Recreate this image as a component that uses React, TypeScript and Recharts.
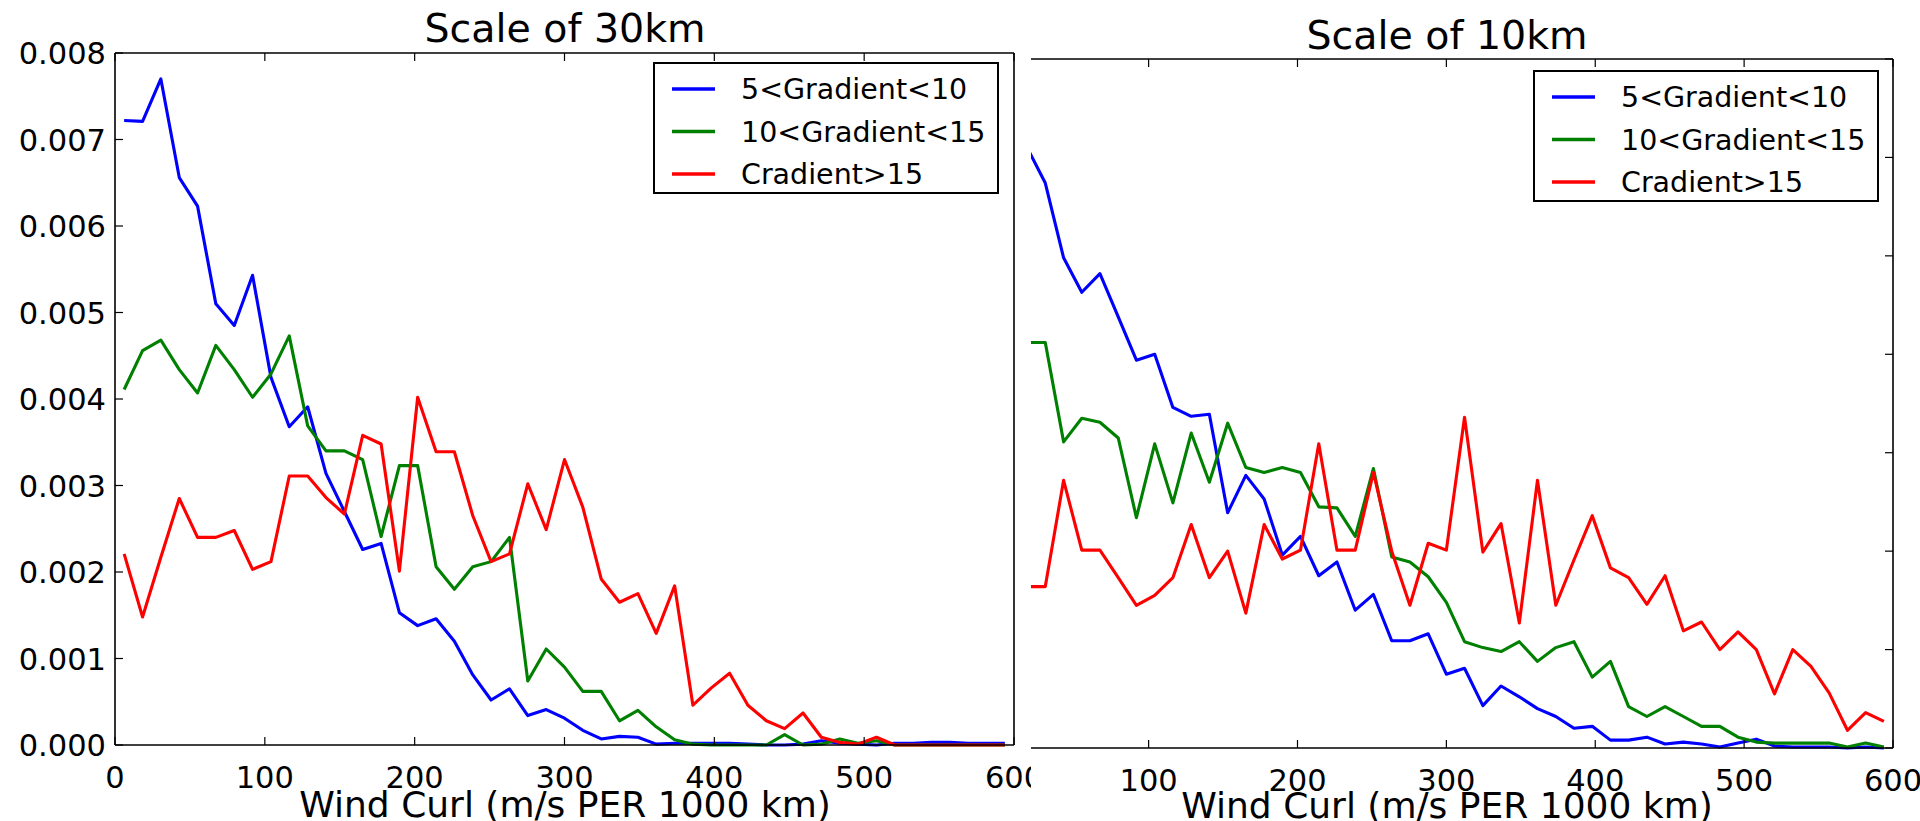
import React from 'react';
import { LineChart, Line, XAxis, YAxis, Legend } from 'recharts';

const FONT = '"DejaVu Sans", "Liberation Sans", sans-serif';

// histogram bin centres (m/s PER 1000 km)
const BIN_CENTERS = [6.1, 18.4, 30.6, 42.9, 55.1, 67.3, 79.6, 91.8, 104.1, 116.3, 128.6, 140.8, 153.1, 165.3, 177.6, 189.8, 202.0, 214.3, 226.5, 238.8, 251.0, 263.3, 275.5, 287.8, 300.0, 312.2, 324.5, 336.7, 349.0, 361.2, 373.5, 385.7, 398.0, 410.2, 422.4, 434.7, 446.9, 459.2, 471.4, 483.7, 495.9, 508.2, 520.4, 532.7, 544.9, 557.1, 569.4, 581.6, 593.9];

const SERIES_NAMES = ['5<Gradient<10', '10<Gradient<15', 'Cradient>15'];
const SERIES_KEYS = ['low', 'mid', 'high'];
const SERIES_COLORS = ['#0000ff', '#008000', '#ff0000'];

const TITLE_30 = 'Scale of 30km';
const TITLE_10 = 'Scale of 10km';
const X_LABEL = 'Wind Curl (m/s PER 1000 km)';

const X_TICKS_30 = [0, 100, 200, 300, 400, 500, 600];
const X_TICKS_10 = [100, 200, 300, 400, 500, 600];
const Y_TICKS_30 = [0, 0.001, 0.002, 0.003, 0.004, 0.005, 0.006, 0.007, 0.008];
const Y_TICKS_10 = [0, 0.001, 0.002, 0.003, 0.004, 0.005, 0.006, 0.007];

// ---- Scale of 30km ----
const LOW_30 = [0.00722, 0.00721, 0.00770, 0.00656, 0.00623, 0.00510, 0.00485, 0.00543, 0.00425, 0.00368, 0.00391, 0.00314, 0.00270, 0.00226, 0.00233, 0.00153, 0.00138, 0.00146, 0.00120, 0.00081, 0.00052, 0.00065, 0.00034, 0.00041, 0.00031, 0.00017, 0.00007, 0.00010, 0.00009, 0.00001, 0.00002, 0.00002, 0.00002, 0.00002, 0.00001, 0.00000, 0.00000, 0.00001, 0.00005, 0.00002, 0.00001, 0.00000, 0.00002, 0.00002, 0.00003, 0.00003, 0.00002, 0.00002, 0.00002];
const MID_30 = [0.00411, 0.00456, 0.00468, 0.00434, 0.00407, 0.00462, 0.00434, 0.00402, 0.00429, 0.00473, 0.00369, 0.00340, 0.00340, 0.00330, 0.00241, 0.00323, 0.00323, 0.00206, 0.00180, 0.00206, 0.00212, 0.00240, 0.00074, 0.00111, 0.00090, 0.00062, 0.00062, 0.00028, 0.00040, 0.00021, 0.00006, 0.00001, 0.00000, 0.00000, 0.00000, 0.00000, 0.00012, 0.00000, 0.00001, 0.00007, 0.00002, 0.00005, 0.00000, 0.00000, 0.00000, 0.00000, 0.00000, 0.00000, 0.00000];
const HIGH_30 = [0.00221, 0.00148, 0.00217, 0.00285, 0.00240, 0.00240, 0.00248, 0.00203, 0.00212, 0.00311, 0.00311, 0.00286, 0.00267, 0.00358, 0.00348, 0.00201, 0.00402, 0.00339, 0.00339, 0.00265, 0.00212, 0.00221, 0.00302, 0.00249, 0.00330, 0.00275, 0.00192, 0.00165, 0.00175, 0.00129, 0.00184, 0.00046, 0.00066, 0.00083, 0.00046, 0.00028, 0.00019, 0.00037, 0.00009, 0.00003, 0.00001, 0.00009, 0.00000, 0.00000, 0.00000, 0.00000, 0.00000, 0.00000, 0.00000];

// ---- Scale of 10km ----
const LOW_10 = [0.00635, 0.00610, 0.00574, 0.00498, 0.00463, 0.00482, 0.00438, 0.00394, 0.00400, 0.00346, 0.00337, 0.00339, 0.00239, 0.00277, 0.00253, 0.00196, 0.00215, 0.00175, 0.00189, 0.00140, 0.00156, 0.00109, 0.00109, 0.00116, 0.00075, 0.00081, 0.00043, 0.00063, 0.00052, 0.00040, 0.00032, 0.00020, 0.00022, 0.00008, 0.00008, 0.00011, 0.00004, 0.00006, 0.00004, 0.00001, 0.00005, 0.00009, 0.00002, 0.00001, 0.00001, 0.00001, 0.00000, 0.00001, 0.00000];
const MID_10 = [0.00412, 0.00412, 0.00412, 0.00311, 0.00335, 0.00331, 0.00315, 0.00234, 0.00309, 0.00249, 0.00320, 0.00270, 0.00330, 0.00285, 0.00280, 0.00285, 0.00280, 0.00245, 0.00244, 0.00215, 0.00284, 0.00194, 0.00189, 0.00174, 0.00148, 0.00108, 0.00102, 0.00098, 0.00108, 0.00088, 0.00102, 0.00108, 0.00072, 0.00088, 0.00042, 0.00032, 0.00042, 0.00032, 0.00022, 0.00022, 0.00011, 0.00006, 0.00005, 0.00005, 0.00005, 0.00005, 0.00001, 0.00005, 0.00001];
const HIGH_10 = [0.00164, 0.00164, 0.00164, 0.00272, 0.00201, 0.00201, 0.00173, 0.00145, 0.00155, 0.00173, 0.00227, 0.00173, 0.00200, 0.00137, 0.00227, 0.00192, 0.00201, 0.00309, 0.00201, 0.00201, 0.00280, 0.00200, 0.00145, 0.00208, 0.00201, 0.00336, 0.00199, 0.00228, 0.00127, 0.00272, 0.00145, 0.00191, 0.00236, 0.00183, 0.00173, 0.00146, 0.00175, 0.00119, 0.00128, 0.00100, 0.00118, 0.00100, 0.00055, 0.00100, 0.00083, 0.00056, 0.00018, 0.00036, 0.00027];

const buildRows = (low: number[], mid: number[], high: number[]) =>
  BIN_CENTERS.map((x, i) => ({ x, low: low[i], mid: mid[i], high: high[i] }));

const DATA_30 = buildRows(LOW_30, MID_30, HIGH_30);
const DATA_10 = buildRows(LOW_10, MID_10, HIGH_10);

const TICK_FONT = 30.5;
const TICK_LEN = 8;

const BottomTick = (p: any) => (
  <g>
    <line x1={p.x} x2={p.x} y1={p.y} y2={p.y - TICK_LEN} stroke="#000" strokeWidth={1.2} />
    <text x={p.x} y={p.y + 43} textAnchor="middle" fill="#000" style={{ fontFamily: FONT, fontSize: TICK_FONT }}>
      {p.payload.value}
    </text>
  </g>
);

const TopTick = (p: any) => (
  <line x1={p.x} x2={p.x} y1={p.y} y2={p.y + TICK_LEN} stroke="#000" strokeWidth={1.2} />
);

const LeftTick = (p: any) => (
  <g>
    <line x1={p.x} x2={p.x + TICK_LEN} y1={p.y} y2={p.y} stroke="#000" strokeWidth={1.2} />
    <text x={p.x - 9} y={p.y + 11} textAnchor="end" fill="#000" style={{ fontFamily: FONT, fontSize: TICK_FONT }}>
      {Number(p.payload.value).toFixed(3)}
    </text>
  </g>
);

const RightTick = (p: any) => (
  <line x1={p.x} x2={p.x - TICK_LEN} y1={p.y} y2={p.y} stroke="#000" strokeWidth={1.2} />
);

const LegendBox = (props: any) => {
  const payload = [...(props.payload || [])].sort(
    (a: any, b: any) => SERIES_NAMES.indexOf(a.value) - SERIES_NAMES.indexOf(b.value)
  );
  return (
    <svg width={346} height={132} style={{ display: 'block' }}>
      <rect x={1} y={1} width={344} height={130} fill="#fff" stroke="#000" strokeWidth={2} />
      {payload.map((e: any, i: number) => {
        const cy = 27 + 42.5 * i;
        return (
          <g key={e.value}>
            <line x1={19} x2={62} y1={cy} y2={cy} stroke={e.color} strokeWidth={3.6} />
            <text x={88} y={cy + 10} fill="#000" style={{ fontFamily: FONT, fontSize: 28.5 }}>
              {e.value}
            </text>
          </g>
        );
      })}
    </svg>
  );
};

const axisLine = { stroke: '#000', strokeWidth: 1.6 };

function renderLines(yAxisId: string) {
  return SERIES_KEYS.map((k, i) => (
    <Line
      key={k}
      type="linear"
      dataKey={k}
      name={SERIES_NAMES[i]}
      stroke={SERIES_COLORS[i]}
      strokeWidth={3.1}
      strokeLinejoin="round"
      dot={false}
      activeDot={false}
      xAxisId="b"
      yAxisId={yAxisId}
      isAnimationActive={false}
    />
  ));
}

export default function App() {
  return (
    <div style={{ position: 'absolute', left: 0, top: 0, width: 1920, height: 821, background: '#fff', overflow: 'hidden' }}>
      {/* Scale of 30km */}
      <div style={{ position: 'absolute', left: 0, top: 0, width: 1031, height: 821, overflow: 'hidden' }}>
        <LineChart width={1031} height={821} data={DATA_30} margin={{ top: 52, bottom: 75, left: 114, right: 16 }}>
          <XAxis xAxisId="b" dataKey="x" type="number" domain={[0, 600]} ticks={X_TICKS_30} interval={0}
            height={1} tickSize={0} tickMargin={0} tickLine={false} axisLine={axisLine} tick={BottomTick} />
          <XAxis xAxisId="t" orientation="top" dataKey="x" type="number" domain={[0, 600]} ticks={X_TICKS_30} interval={0}
            height={1} tickSize={0} tickMargin={0} tickLine={false} axisLine={axisLine} tick={TopTick} />
          <YAxis yAxisId="l" type="number" domain={[0, 0.008]} ticks={Y_TICKS_30} interval={0}
            width={1} tickSize={0} tickMargin={0} tickLine={false} axisLine={axisLine} tick={LeftTick} />
          <YAxis yAxisId="r" orientation="right" type="number" domain={[0, 0.008]} ticks={Y_TICKS_30} interval={0}
            width={1} tickSize={0} tickMargin={0} tickLine={false} axisLine={axisLine} tick={RightTick} />
          {renderLines('l')}
          <Legend content={LegendBox} layout="horizontal" verticalAlign="middle" align="center"
            wrapperStyle={{ left: 653, top: 62, width: 346, height: 132 }} />
        </LineChart>
      </div>

      {/* Scale of 10km (cropped on its left side) */}
      <div style={{ position: 'absolute', left: 1031, top: 0, width: 889, height: 821, overflow: 'hidden' }}>
        <LineChart width={889} height={821} data={DATA_10} margin={{ top: 58, bottom: 72, left: 0, right: 26 }}>
          <XAxis xAxisId="b" dataKey="x" type="number" domain={[21, 600]} allowDataOverflow ticks={X_TICKS_10} interval={0}
            height={1} tickSize={0} tickMargin={0} tickLine={false} axisLine={axisLine} tick={BottomTick} />
          <XAxis xAxisId="t" orientation="top" dataKey="x" type="number" domain={[21, 600]} allowDataOverflow ticks={X_TICKS_10} interval={0}
            height={1} tickSize={0} tickMargin={0} tickLine={false} axisLine={axisLine} tick={TopTick} />
          <YAxis yAxisId="r" orientation="right" type="number" domain={[0, 0.007]} ticks={Y_TICKS_10} interval={0}
            width={1} tickSize={0} tickMargin={0} tickLine={false} axisLine={axisLine} tick={RightTick} />
          {renderLines('r')}
          <Legend content={LegendBox} layout="horizontal" verticalAlign="middle" align="center"
            wrapperStyle={{ left: 502, top: 70, width: 346, height: 132 }} />
        </LineChart>
      </div>

      {/* titles and axis labels */}
      <svg width={1920} height={821} style={{ position: 'absolute', left: 0, top: 0, pointerEvents: 'none' }}>
        <text x={565} y={42} textAnchor="middle" fill="#000" style={{ fontFamily: FONT, fontSize: 39.5 }}>{TITLE_30}</text>
        <text x={1447} y={49} textAnchor="middle" fill="#000" style={{ fontFamily: FONT, fontSize: 39.5 }}>{TITLE_10}</text>
        <text x={565} y={817} textAnchor="middle" fill="#000" style={{ fontFamily: FONT, fontSize: 36 }}>{X_LABEL}</text>
        <text x={1447} y={818} textAnchor="middle" fill="#000" style={{ fontFamily: FONT, fontSize: 36 }}>{X_LABEL}</text>
      </svg>
    </div>
  );
}
